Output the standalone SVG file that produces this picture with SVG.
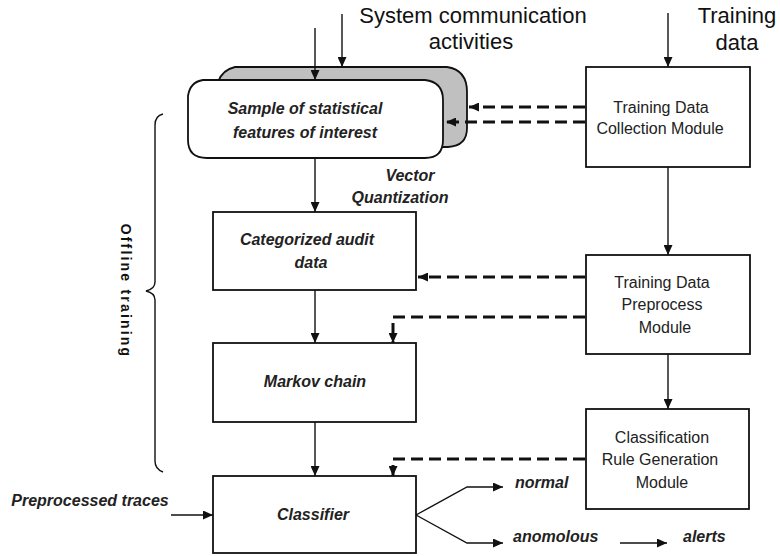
<svg xmlns="http://www.w3.org/2000/svg" width="780" height="556" viewBox="0 0 780 556">
<defs>
<marker id="ah" markerUnits="userSpaceOnUse" markerWidth="10" markerHeight="9" refX="10" refY="4.5" orient="auto">
<path d="M0,0 L10,4.5 L0,9 z" fill="#111"/>
</marker>
<style>
.box{fill:#fff;stroke:#111;stroke-width:1.8}
.ln{fill:none;stroke:#111;stroke-width:1.4}
.dash{fill:none;stroke:#111;stroke-width:3;stroke-dasharray:12 6}
.bi{font-family:"Liberation Sans",Arial,sans-serif;font-size:16px;font-weight:bold;font-style:italic;fill:#222;text-anchor:middle}
.rg{font-family:"Liberation Sans",Arial,sans-serif;font-size:16px;fill:#222;text-anchor:middle}
.big{font-family:"Liberation Sans",Arial,sans-serif;font-size:22px;fill:#111;text-anchor:middle}
</style>
</defs>
<rect width="780" height="556" fill="#fff"/>

<g id="labels">
<text class="big" x="473" y="23">System communication</text>
<text class="big" x="471" y="49">activities</text>
<text class="big" x="737" y="23">Training</text>
<text class="big" x="737" y="50">data</text>
<text class="bi" x="410" y="181">Vector</text>
<text class="bi" x="400" y="203">Quantization</text>
<text class="bi" x="90" y="506">Preprocessed traces</text>
<text class="bi" x="515" y="488" style="text-anchor:start">normal</text>
<text class="bi" x="513" y="542" style="text-anchor:start">anomolous</text>
<text class="bi" x="683" y="542" style="text-anchor:start">alerts</text>
<text transform="translate(121,291) rotate(90)" style="font-family:'Liberation Sans',Arial,sans-serif;font-size:14px;font-weight:bold;fill:#111;letter-spacing:2.2px;text-anchor:middle">Offline training</text>
</g>

<g id="brace">
<path class="ln" d="M163,114 Q155,116 155,125 L155,282 Q155,289 146,291 Q155,293 155,300 L155,461 Q155,469 163,472"/>
</g>

<g id="sample">
<path d="M218,82 Q222,70 235,67 L447,67 Q467,70 467,92 L467,128 Q467,146 448,147 L230,147 Z" fill="#c0c0c0" stroke="#111" stroke-width="1.8"/>
<path class="box" d="M203,80 L425,80 Q443,82 443,100 L443,140 Q443,158 425,158 L207,158 Q188,158 188,140 L188,96 Q190,82 203,80 Z"/>
<text class="bi" x="305" y="114">Sample of statistical</text>
<text class="bi" x="305" y="138">features of interest</text>
</g>

<g id="collection">
<rect class="box" x="586" y="67" width="164" height="100"/>
<text class="rg" x="661" y="113">Training Data</text>
<text class="rg" x="660" y="134">Collection Module</text>
</g>

<g id="categorized">
<rect class="box" x="213" y="212" width="203" height="78"/>
<text class="bi" x="307" y="245">Categorized audit</text>
<text class="bi" x="311" y="268">data</text>
</g>

<g id="preprocess">
<rect class="box" x="586" y="255" width="164" height="99"/>
<text class="rg" x="662" y="288">Training Data</text>
<text class="rg" x="662" y="310">Preprocess</text>
<text class="rg" x="665" y="333">Module</text>
</g>

<g id="markov">
<rect class="box" x="213" y="343" width="203" height="79"/>
<text class="bi" x="315" y="387">Markov chain</text>
</g>

<g id="classification">
<rect class="box" x="586" y="409" width="163" height="100"/>
<text class="rg" x="662" y="443">Classification</text>
<text class="rg" x="660" y="465">Rule Generation</text>
<text class="rg" x="662" y="488">Module</text>
</g>

<g id="classifier">
<rect class="box" x="213" y="476" width="203" height="77"/>
<text class="bi" x="313" y="520">Classifier</text>
</g>

<g id="connectors">
<line class="ln" x1="315" y1="28" x2="315" y2="80" marker-end="url(#ah)"/>
<line class="ln" x1="342" y1="14" x2="342" y2="67" marker-end="url(#ah)"/>
<line class="ln" x1="668" y1="13" x2="668" y2="67" marker-end="url(#ah)"/>
<line class="dash" x1="585" y1="107" x2="469" y2="107" marker-end="url(#ah)"/>
<line class="dash" x1="585" y1="122" x2="446" y2="122" marker-end="url(#ah)"/>
<line class="ln" x1="315" y1="158" x2="315" y2="212" marker-end="url(#ah)"/>
<line class="ln" x1="668" y1="167" x2="668" y2="255" marker-end="url(#ah)"/>
<line class="dash" x1="585" y1="277" x2="418" y2="277" marker-end="url(#ah)"/>
<path class="dash" d="M585,317 L393,317 L393,343" marker-end="url(#ah)"/>
<line class="ln" x1="315" y1="290" x2="315" y2="343" marker-end="url(#ah)"/>
<line class="ln" x1="315" y1="422" x2="315" y2="476" marker-end="url(#ah)"/>
<line class="ln" x1="668" y1="354" x2="668" y2="409" marker-end="url(#ah)"/>
<path class="dash" d="M585,459 L393,459 L393,476" marker-end="url(#ah)"/>
<line class="ln" x1="171" y1="515" x2="213" y2="515" marker-end="url(#ah)"/>
<path class="ln" d="M416,515 L467,487 L503,487" marker-end="url(#ah)"/>
<path class="ln" d="M416,515 L467,543 L503,543" marker-end="url(#ah)"/>
<line class="ln" x1="620" y1="543" x2="667" y2="543" marker-end="url(#ah)"/>
</g>
</svg>
